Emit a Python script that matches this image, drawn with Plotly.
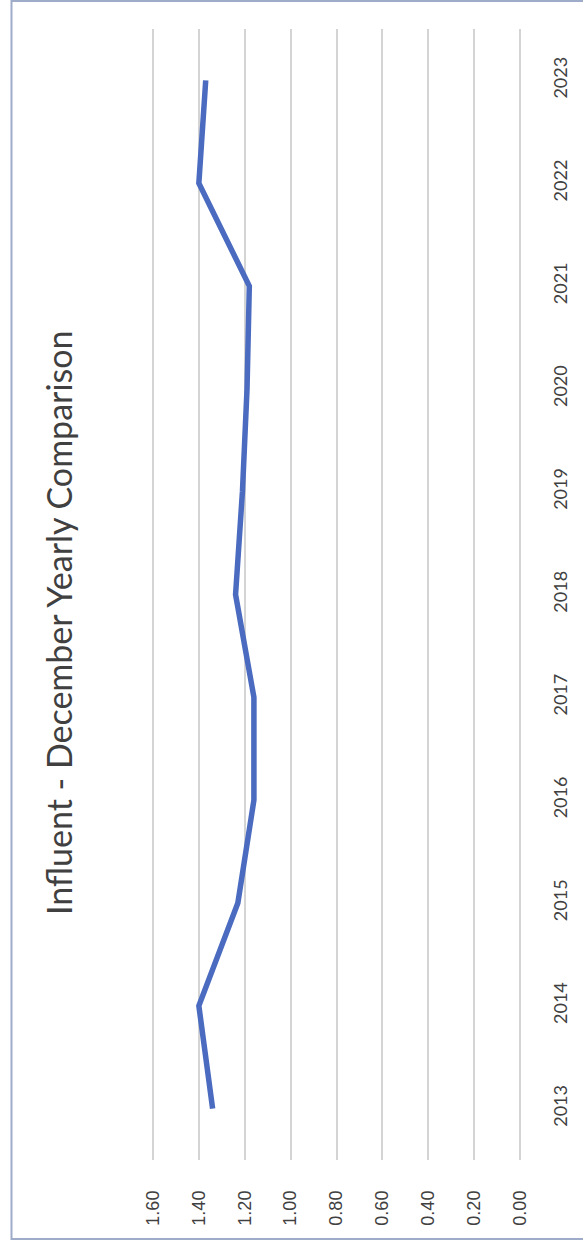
import plotly.graph_objects as go

years = ["2013", "2014", "2015", "2016", "2017", "2018", "2019", "2020", "2021", "2022", "2023"]
values = [1.34, 1.40, 1.23, 1.16, 1.16, 1.24, 1.21, 1.19, 1.18, 1.40, 1.37]
value_ticks = [0.0, 0.2, 0.4, 0.6, 0.8, 1.0, 1.2, 1.4, 1.6]
title_text = "Influent - December Yearly Comparison"

W, H = 583, 1245
L, R, T, B = 150, 56, 29, 85
pw = W - L - R
ph = H - T - B
pad = 3 * 1.6 / 371  # 3px of value-axis padding so edge gridlines are drawn

def px_x(p):
    return (p - L) / pw

def px_y(p):
    return (H - B - p) / ph

fig = go.Figure()
fig.add_trace(go.Scatter(
    x=values, y=years, mode="lines",
    line=dict(color="#4a6bbf", width=5.5),
    hoverinfo="skip", showlegend=False,
))

fig.update_layout(
    width=W, height=H,
    margin=dict(l=L, r=R, t=T, b=B),
    paper_bgcolor="white", plot_bgcolor="white",
    xaxis=dict(
        range=[1.6 + pad, -pad], tickvals=value_ticks,
        ticktext=[f"{v:.2f}" for v in value_ticks],
        tickangle=-90, showgrid=True, gridcolor="#d4d4d4", gridwidth=1.5,
        zeroline=False, showline=False, ticks="",
        tickfont=dict(family="Liberation Sans", size=18, color="#404040"),
        ticklabelstandoff=26, fixedrange=True,
    ),
    yaxis=dict(
        type="category", categoryorder="array", categoryarray=years,
        range=[-0.5, len(years) - 0.5], side="right",
        tickangle=-90, showgrid=False, zeroline=False, showline=False, ticks="",
        tickfont=dict(family="Lato", size=18, color="#404040"),
        ticklabelstandoff=25, fixedrange=True,
    ),
    annotations=[dict(
        text=title_text, textangle=-90, showarrow=False,
        xref="paper", yref="paper", x=px_x(57), y=px_y(622),
        xanchor="center", yanchor="middle",
        font=dict(family="Lato", size=34, color="#404040"),
    )],
    shapes=[dict(
        type="rect", xref="paper", yref="paper",
        x0=px_x(10), x1=px_x(600), y0=px_y(1239), y1=px_y(1),
        line=dict(color="#9eabc9", width=2), fillcolor="rgba(0,0,0,0)", layer="below",
    )],
)

fig.write_html("out.html", config={"displayModeBar": False},
               post_script="document.body.style.margin='0';")
